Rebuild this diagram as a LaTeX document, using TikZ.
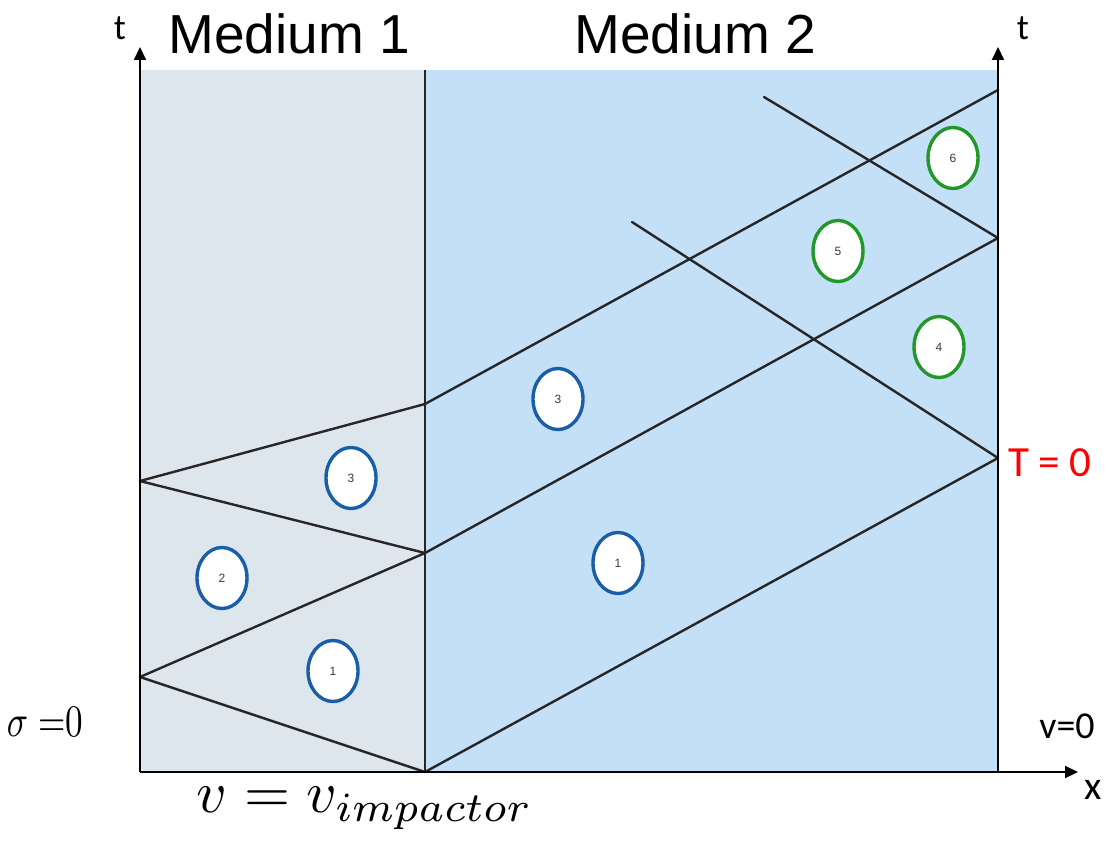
\documentclass[tikz,border=0pt]{standalone}
\usepackage{fontspec}
\setmainfont{Liberation Sans}
\newfontfamily\calfont{Carlito}
\newfontfamily\lmfont{Latin Modern Roman}
\usetikzlibrary{arrows.meta,shapes.geometric}
\definecolor{mone}{HTML}{DEE6ED}
\definecolor{mtwo}{HTML}{C4E0F6}
\definecolor{cblue}{HTML}{1A5EA8}
\definecolor{cgreen}{HTML}{22982A}
\definecolor{numgray}{HTML}{3A3A3A}
\tikzset{
  wave/.style={line width=2.4pt, black!85, line cap=round},
  axisline/.style={line width=2pt, -{Triangle[length=13pt,width=12pt]}},
  region/.style={ellipse, draw, line width=3.4pt, fill=white, minimum width=50pt, minimum height=61pt, inner sep=0pt, font=\fontsize{12}{14}\selectfont, text=numgray},
  bluereg/.style={region, draw=cblue},
  greenreg/.style={region, draw=cgreen},
  lbl/.style={inner sep=0pt}
}
\begin{document}
\begin{tikzpicture}[x=1pt,y=-1pt]
\useasboundingbox (0,0) rectangle (1114,843);
% media
\fill[mone] (140,70) rectangle (425,772);
\fill[mtwo] (425,70) rectangle (998,772);
% coordinates
\coordinate (O) at (425,772);
\coordinate (A) at (140,677);
\coordinate (B) at (425,553);
\coordinate (C) at (140,481);
\coordinate (D) at (425,404);
\coordinate (E) at (998,458);
\coordinate (F) at (998,238);
\coordinate (G) at (998,90);
\coordinate (H) at (632,222);
\coordinate (K) at (764,97);
\coordinate (Ttop) at (425,70);
% interface
\draw[line width=1.6pt, black!85] (O) -- (Ttop);
% waves in medium 1
\draw[wave] (O) -- (A);
\draw[wave] (A) -- (B);
\draw[wave] (B) -- (C);
\draw[wave] (C) -- (D);
% waves in medium 2
\draw[wave] (O) -- (E);
\draw[wave] (B) -- (F);
\draw[wave] (D) -- (G);
\draw[wave] (E) -- (H);
\draw[wave] (F) -- (K);
% axes
\coordinate (L0) at (140,772);
\coordinate (Ltip) at (140,47);
\coordinate (R0) at (998,772);
\coordinate (Rtip) at (998,47);
\coordinate (Xtip) at (1078,772);
\draw[axisline] (L0) -- (Ltip);
\draw[axisline] (R0) -- (Rtip);
\draw[axisline] (L0) -- (Xtip);
% region markers
\node[bluereg] (m1) at (333,671) {1};
\node[bluereg] (m2) at (222,578) {2};
\node[bluereg] (m3) at (351,478) {3};
\node[bluereg] (n1) at (618,563) {1};
\node[bluereg] (n3) at (558,399) {3};
\node[greenreg] (n4) at (939,347) {4};
\node[greenreg] (n5) at (838,251) {5};
\node[greenreg] (n6) at (953,158) {6};
% labels
\node[lbl, font=\fontsize{55}{60}\selectfont] (med1) at (289,34) {Medium 1};
\node[lbl, font=\fontsize{55}{60}\selectfont] (med2) at (695,34) {Medium 2};
\node[lbl, font=\calfont\fontsize{36}{40}\selectfont] (tl) at (120,28) {t};
\node[lbl, font=\calfont\fontsize{36}{40}\selectfont] (tr) at (1023,28) {t};
\node[lbl, font=\calfont\fontsize{40}{44}\selectfont] (xl) at (1093,790) {x};
\node[lbl, font=\calfont\fontsize{38}{42}\selectfont] (vz) at (1067,726) {v=0};
\node[lbl, font=\calfont\fontsize{43}{46}\selectfont, text=red] (tz) at (1050,463) {T = 0};
\node[lbl] (sz) at (45,722) {\resizebox{76pt}{30pt}{$\sigma$ \lmfont=0}};
\node[lbl] (vi) at (365,808) {\resizebox{336pt}{!}{$v = v_{impactor}$}};
\end{tikzpicture}
\end{document}
